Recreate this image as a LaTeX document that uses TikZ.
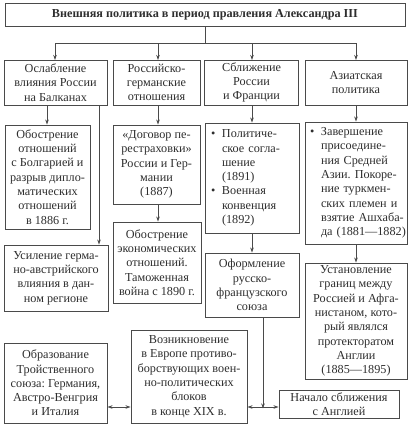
\documentclass[tikz,border=0pt]{standalone}
\usepackage{fontspec}
\setmainfont{Liberation Serif}
\usetikzlibrary{arrows.meta}
\frenchspacing
\definecolor{ink}{HTML}{2E2E2E}
\definecolor{edge}{HTML}{4A4A4A}
\tikzset{
  box/.style={draw=edge, line width=0.9pt, inner sep=1pt, align=center, text=ink,
    font=\fontsize{12.2}{14.3}\selectfont},
  lbox/.style={box, align=left},
  arr/.style={draw=edge, line width=0.8pt, -{Stealth[length=5pt,width=3.5pt]}},
  darr/.style={draw=edge, line width=0.8pt, {Stealth[length=5pt,width=3.5pt]}-{Stealth[length=5pt,width=3.5pt]}},
  ln/.style={draw=edge, line width=0.8pt}
}
\newcommand{\bul}{\makebox[13pt][l]{\hspace{2pt}\textbullet}}
\newcommand{\ind}{\hspace*{13pt}}
\begin{document}
\begin{tikzpicture}[x=1pt,y=-1pt]
\useasboundingbox[fill=white] (0,0) rectangle (409,426);
% title
\node[box, minimum width=400pt, minimum height=23pt, font=\fontsize{12.2}{14}\selectfont\bfseries] (title) at (205,14.5)
  {Внешняя политика в период правления Александра III};
% headers
\node[box, minimum width=103pt, minimum height=45pt] (h1) at (55.5,82.5) {Ослабление\\влияния России\\на Балканах};
\node[box, minimum width=87pt, minimum height=45pt] (h2) at (156.5,82.5) {Российско-\\германские\\отношения};
\node[box, minimum width=94pt, minimum height=45pt] (h3) at (251.5,82.5) {Сближение\\России\\и Франции};
\node[box, minimum width=102pt, minimum height=45pt] (h4) at (356,82.5) {Азиатская\\политика};
% column 1
\node[box, minimum width=85pt, minimum height=104pt] (c1a) at (47.5,177) {Обострение\\отношений\\с Болгарией и\\разрыв дипло-\\матических\\отношений\\в 1886 г.};
\node[box, minimum width=104pt, minimum height=66pt] (c1b) at (56,278) {Усиление герма-\\но-австрийского\\влияния в дан-\\ном регионе};
% column 2
\node[box, minimum width=87pt, minimum height=79pt] (c2a) at (156.5,164.5) {«Договор пе-\\рестраховки»\\России и Гер-\\мании\\(1887)};
\node[box, minimum width=88pt, minimum height=81pt] (c2b) at (157,262.5) {Обострение\\экономических\\отношений.\\Таможенная\\война с 1890 г.};
% column 3
\node[lbox, minimum width=94pt, minimum height=110pt, text width=86pt] (c3a) at (252,178) {\bul Политиче-\\\ind ское согла-\\\ind шение\\\ind (1891)\\\bul Военная\\\ind конвенция\\\ind (1892)};
\node[box, minimum width=94pt, minimum height=64pt] (c3b) at (252,285) {Оформление\\русско-\\французского\\союза};
% column 4
\node[lbox, minimum width=102pt, minimum height=122pt, text width=96pt] (c4a) at (356,183) {\bul Завершение\\\ind присоедине-\\\ind ния Средней\\\ind Азии. Покоре-\\\ind ние туркмен-\\\ind ских племен и\\\ind взятие Ашхаба-\\\ind \mbox{да (1881—1882)}};
\node[box, minimum width=102pt, minimum height=116pt] (c4b) at (356,321) {Установление\\границ между\\Россией и Афга-\\нистаном, кото-\\рый являлся\\протекторатом\\Англии\\(1885—1895)};
% bottom
\node[box, minimum width=103pt, minimum height=80pt] (b1) at (55.5,383) {Образование\\Тройственного\\союза: Германия,\\Австро-Венгрия\\и Италия};
\node[box, minimum width=116pt, minimum height=93pt] (b2) at (189,376.5) {Возникновение\\в Европе противо-\\борствующих воен-\\но-политических\\блоков\\в конце XIX в.};
\node[box, minimum width=120pt, minimum height=28pt] (b3) at (339,404) {Начало сближения\\с Англией};
% connectors from title
\coordinate (tj) at (205,43);
\draw[ln] (title.south -| tj) -- (tj);
\draw[ln] (55,43) -- (356,43);
\draw[arr] (55,43) -- (55,60);
\draw[arr] (158,43) -- (158,60);
\draw[arr] (252,43) -- (252,60);
\draw[arr] (356,43) -- (356,60);
% column arrows
\draw[arr] (h1.south -| 47,0) -- (c1a.north -| 47,0);
\draw[arr] (h1.south -| 99,0) -- (c1b.north -| 99,0);
\draw[arr] (h2.south -| 158,0) -- (c2a.north -| 158,0);
\draw[arr] (c2a.south -| 158,0) -- (c2b.north -| 158,0);
\draw[arr] (h3.south -| 252,0) -- (c3a.north -| 252,0);
\draw[arr] (c3a.south -| 252,0) -- (c3b.north -| 252,0);
\draw[arr] (h4.south -| 356,0) -- (c4a.north -| 356,0);
\draw[arr] (c4a.south -| 356,0) -- (c4b.north -| 356,0);
% bottom connectors
\coordinate (bj) at (263,407);
\draw[arr] (c3b.south -| bj) -- ([yshift=-1.5pt]bj);
\draw[darr] (b2.east |- bj) -- (b3.west |- bj);
\draw[darr] (b1.east |- bj) -- (b2.west |- bj);
\end{tikzpicture}
\end{document}
